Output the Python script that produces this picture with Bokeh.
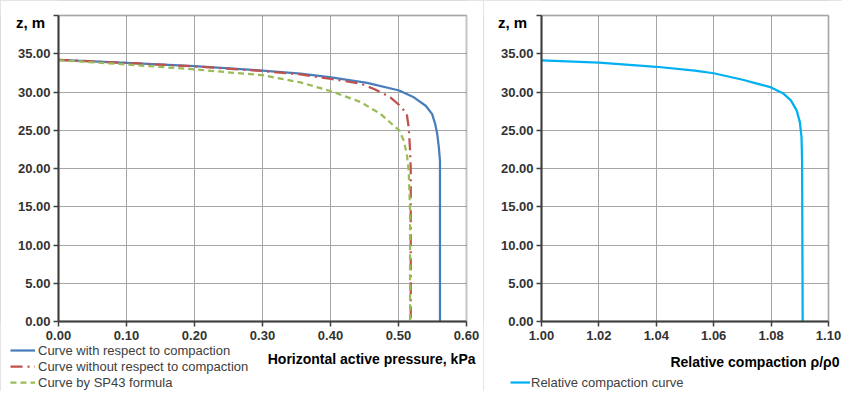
from bokeh.plotting import figure
from bokeh.layouts import row
from bokeh.models import (Legend, LegendItem, Label, FixedTicker, Range1d, NumeralTickFormatter,
                          LinearAxis, BoxAnnotation)
from bokeh.embed import file_html
from bokeh.resources import INLINE

# ---------------- data ----------------
# Curve with respect to compaction
p_with = [0.000, 0.100, 0.200, 0.300, 0.356, 0.401, 0.454, 0.501, 0.5225, 0.540, 0.5495,
          0.554, 0.557, 0.5593, 0.561, 0.561]
z_with = [34.20, 33.82, 33.37, 32.80, 32.40, 31.90, 31.20, 30.20, 29.30, 28.20, 27.10,
          25.80, 24.50, 22.80, 21.00, 0.00]
# Curve without respect to compaction
p_without = [0.000, 0.100, 0.200, 0.300, 0.356, 0.401, 0.444, 0.464, 0.488, 0.501, 0.512,
             0.515, 0.5167, 0.518, 0.518]
z_without = [34.20, 33.80, 33.35, 32.75, 32.30, 31.70, 31.10, 30.40, 29.30, 28.30, 27.20,
             25.40, 22.90, 20.00, 0.00]
# Curve by SP43 formula
p_sp43 = [0.000, 0.100, 0.200, 0.300, 0.356, 0.401, 0.444, 0.4735, 0.493, 0.501, 0.508,
          0.5125, 0.515, 0.516, 0.517, 0.517]
z_sp43 = [34.15, 33.60, 32.95, 32.20, 31.25, 30.10, 28.70, 27.15, 25.60, 25.00, 23.60,
          21.70, 19.70, 17.10, 14.50, 0.00]
# Relative compaction curve
rho_rel = [1.000, 1.020, 1.040, 1.0534, 1.060, 1.0701, 1.080, 1.0841, 1.0869, 1.0889, 1.0900,
           1.0906, 1.0908, 1.0910]
z_rho = [34.15, 33.85, 33.30, 32.80, 32.45, 31.60, 30.60, 29.85, 28.90, 27.60, 26.10,
         24.10, 21.00, 0.00]

z_ticks = [0, 5, 10, 15, 20, 25, 30, 35, 40]
z_lim = (0, 40)
p_ticks = [0.0, 0.1, 0.2, 0.3, 0.4, 0.5, 0.6]
p_lim = (0.0, 0.6)
rho_ticks = [1.00, 1.02, 1.04, 1.06, 1.08, 1.10]
rho_lim = (1.0, 1.1)

labels_left = ["Curve with respect to compaction",
               "Curve without respect to compaction",
               "Curve by SP43 formula"]
label_right = "Relative compaction curve"
z_title = "z, m"
x_title_left = "Horizontal active pressure, kPa"
x_title_right = "Relative compaction ρ/ρ0"

FONT = "Liberation Sans"
DARK = "#404040"
H = 391                     # figure height (px)
TOP, BOTTOM = 15, 321       # plot-area top / bottom (px from top)


def make_fig(width, left_px, right_px, xlim):
    """Figure whose frame covers the whole canvas; the plot area is placed by the ranges."""
    ppu_x = (right_px - left_px) / (xlim[1] - xlim[0])
    ppu_y = (BOTTOM - TOP) / (z_lim[1] - z_lim[0])
    xr = Range1d(xlim[0] - left_px / ppu_x, xlim[1] + (width - right_px) / ppu_x)
    yr = Range1d(z_lim[0] - (H - BOTTOM) / ppu_y, z_lim[1] + TOP / ppu_y)
    p = figure(width=width, height=H, output_backend="svg", toolbar_location=None,
               x_range=xr, y_range=yr, x_axis_location=None, y_axis_location=None,
               min_border=0)
    p.outline_line_color = "#d0d0d0"
    p.outline_line_width = 1
    p.background_fill_color = "white"
    p.border_fill_color = "white"
    return p, ppu_x, ppu_y


def add_axes(p, xticks, xlim):
    xa = LinearAxis(fixed_location=z_lim[0], bounds=xlim, ticker=FixedTicker(ticks=xticks),
                    formatter=NumeralTickFormatter(format="0.00"))
    ya = LinearAxis(fixed_location=xlim[0], bounds=z_lim, ticker=FixedTicker(ticks=z_ticks),
                    formatter=NumeralTickFormatter(format="0.00"),
                    major_label_overrides={40: ""})
    p.add_layout(xa, "below")
    p.add_layout(ya, "left")
    for ax in (xa, ya):
        ax.axis_line_color = DARK
        ax.axis_line_width = 2
        ax.major_tick_line_color = DARK
        ax.major_tick_line_width = 1.5
        ax.major_tick_in = 0
        ax.major_tick_out = 5
        ax.minor_tick_line_color = None
        ax.major_label_text_font = FONT
        ax.major_label_text_font_style = "bold"
        ax.major_label_text_font_size = "13px"
        ax.major_label_text_color = "#333333"
    xa.major_label_standoff = 4
    ya.major_label_standoff = 3
    for g in (p.xgrid[0], p.ygrid[0]):
        g.grid_line_color = "#a6a6a6"
        g.grid_line_width = 1
    # hide grid outside the plot area
    for kw in (dict(top=z_lim[0]), dict(bottom=z_lim[1]), dict(right=xlim[0]), dict(left=xlim[1])):
        p.add_layout(BoxAnnotation(fill_color="white", fill_alpha=1, line_color=None,
                                   level="underlay", **kw))
    # plot-area border
    p.add_layout(BoxAnnotation(left=xlim[0], right=xlim[1], bottom=z_lim[0], top=z_lim[1],
                               fill_alpha=0, line_color=DARK, line_width=2, level="guide"))


def style_legend(leg):
    leg.padding = 0
    leg.margin = 0
    leg.spacing = 0
    leg.label_height = 16
    leg.glyph_height = 16
    leg.border_line_color = None
    leg.background_fill_alpha = 0
    leg.label_text_font = FONT
    leg.label_text_font_size = "13px"
    leg.label_text_color = "#404040"


# ---------------- left chart ----------------
p1, kx1, ky = make_fig(483, 58, 466, p_lim)
add_axes(p1, p_ticks, p_lim)

r1 = p1.line(p_with, z_with, line_color="#4a7ebb", line_width=2.25)
r2 = p1.line(p_without, z_without, line_color="#c0504d", line_width=2.25, line_dash="12 5 2 5")
r3 = p1.line(p_sp43, z_sp43, line_color="#9bbb59", line_width=2.25, line_dash="6 4")

leg1 = Legend(items=[LegendItem(label=labels_left[0], renderers=[r1]),
                     LegendItem(label=labels_left[1], renderers=[r2]),
                     LegendItem(label=labels_left[2], renderers=[r3])],
              location=(10, 1), glyph_width=25, label_standoff=3)
style_legend(leg1)
p1.add_layout(leg1)

p1.add_layout(Label(x=p_lim[0] + (30 - 58) / kx1, y=z_lim[0] + (BOTTOM - 22) / ky, text=z_title,
                    text_align="center", text_baseline="alphabetic",
                    text_font=FONT, text_font_style="bold", text_font_size="15px", text_color="black"))
p1.add_layout(Label(x=p_lim[0] + (475 - 58) / kx1, y=z_lim[0] + (BOTTOM - 358) / ky, text=x_title_left,
                    text_align="right", text_baseline="alphabetic", text_font=FONT,
                    text_font_style="bold", text_font_size="14px", text_color="black"))

# ---------------- right chart ----------------
p2, kx2, _ = make_fig(359, 58, 345, rho_lim)
add_axes(p2, rho_ticks, rho_lim)

r4 = p2.line(rho_rel, z_rho, line_color="#00b0f0", line_width=2.25)
leg2 = Legend(items=[LegendItem(label=label_right, renderers=[r4])],
              location=(27, 1), glyph_width=20, label_standoff=1)
style_legend(leg2)
p2.add_layout(leg2)

p2.add_layout(Label(x=rho_lim[0] + (29 - 58) / kx2, y=z_lim[0] + (BOTTOM - 22) / ky, text=z_title,
                    text_align="center", text_baseline="alphabetic",
                    text_font=FONT, text_font_style="bold", text_font_size="15px", text_color="black"))
p2.add_layout(Label(x=rho_lim[0] + (356 - 58) / kx2, y=z_lim[0] + (BOTTOM - 361) / ky, text=x_title_right,
                    text_align="right", text_baseline="alphabetic", text_font=FONT,
                    text_font_style="bold", text_font_size="14px", text_color="black"))

layout = row(p1, p2)
open("out.html", "w").write(file_html(layout, INLINE))
